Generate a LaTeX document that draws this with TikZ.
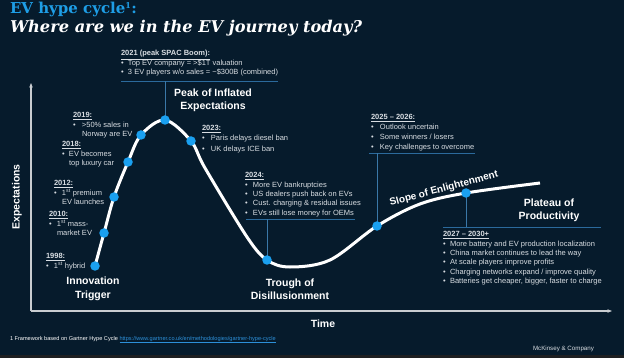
\documentclass[tikz,border=0pt]{standalone}
\usepackage{fontspec}
\setmainfont{Liberation Sans}
\newfontfamily\titlefont{DejaVu Serif}
\usetikzlibrary{arrows.meta}
\definecolor{bg}{HTML}{061B2C}
\definecolor{dotblue}{HTML}{1AA0F0}
\definecolor{titleblue}{HTML}{1E9EE6}
\definecolor{linkblue}{HTML}{2C8FD8}
\definecolor{sepblue}{HTML}{2B6A9C}
\definecolor{vblue}{HTML}{3A78A8}
\definecolor{txt}{HTML}{D9DEE3}
\definecolor{axisgray}{HTML}{C9CDD1}
\definecolor{stripgray}{HTML}{1E1F21}
\newcommand{\bl}[2][8]{\makebox[#1pt][l]{\textbullet}#2}
\newcommand{\cn}[2][8]{\hspace*{#1pt}#2}
\newcommand{\hd}[1]{\underline{\textbf{#1}}}
\begin{document}
\begin{tikzpicture}[x=1pt,y=-1pt,
  every node/.style={inner sep=0pt, outer sep=0pt},
  info/.style={anchor=north west, align=left, text=txt, font=\fontsize{7.5}{9.4}\selectfont},
  stage/.style={align=center, text=white, font=\bfseries\fontsize{10.5}{13.5}\selectfont},
  dot/.style={circle, fill=dotblue, minimum size=9.5pt},
  sep/.style={draw=sepblue, line width=0.9pt},
  vline/.style={draw=vblue, line width=0.8pt},
  curve/.style={draw=white, line width=3pt},
  axis/.style={draw=axisgray, line width=1.1pt, -{Stealth[length=4.5pt,width=3.5pt]}}
]
\fill[bg] (0,0) rectangle (624,355);
\fill[stripgray] (0,355) rectangle (624,358);
\useasboundingbox (0,0) rectangle (624,358);

% title
\node[anchor=base west, text=titleblue, font=\titlefont\bfseries\fontsize{15}{18}\selectfont] (title) at (10,14) {EV hype cycle\textsuperscript{\fontsize{8}{8}\selectfont 1}:};
\node[anchor=base west, text=white, font=\titlefont\bfseries\itshape\fontsize{16.2}{19}\selectfont] (subtitle) at (10,33) {Where are we in the EV journey today?};

% axes
\coordinate (O) at (31,311);
\coordinate (ytop) at (31,83);
\coordinate (xend) at (612,311);
\draw[axis] (O) -- (ytop);
\draw[axis] (O) -- (xend);
\node[stage, rotate=90] (ylab) at (17,197) {Expectations};
\node[stage] (xlab) at (323,324) {Time};

% curve
\draw[curve] plot[smooth, tension=0.55] coordinates {(95,266) (104,233) (114,197) (128,162) (141,135) (165,120) (191,141) (205,168) (247,237) (267,260) (290,267) (330,260) (377,226) (420,204) (466,193) (540,183)};

% dot positions
\coordinate (c1998) at (95,266);
\coordinate (c2010) at (104,233);
\coordinate (c2012) at (114,197);
\coordinate (c2018) at (128,162);
\coordinate (c2019) at (141,135);
\coordinate (cpeak) at (165,120);
\coordinate (c2023) at (191,141);
\coordinate (c2024) at (267,260);
\coordinate (c2025) at (377,226);
\coordinate (c2027) at (466,193);

% separators
\coordinate (s21a) at (121,81);  \coordinate (s21b) at (278,81);
\coordinate (s24a) at (246,219); \coordinate (s24b) at (355,219);
\coordinate (s25a) at (369,153); \coordinate (s25b) at (475,153);
\coordinate (s27a) at (443,227); \coordinate (s27b) at (601,227);
\draw[sep] (s21a) -- (s21b);
\draw[sep] (s24a) -- (s24b);
\draw[sep] (s25a) -- (s25b);
\draw[sep] (s27a) -- (s27b);
\draw[vline] (cpeak) -- (cpeak |- s21a);
\draw[vline] (c2024) -- (c2024 |- s24a);
\draw[vline] (c2025) -- (c2025 |- s25a);
\draw[vline] (c2027) -- (c2027 |- s27a);

% dots
\foreach \n in {1998,2010,2012,2018,2019,peak,2023,2024,2025,2027}
  \node[dot] (d\n) at (c\n) {};

% slope label
\node[text=white, font=\bfseries\fontsize{10}{12}\selectfont, rotate=15] (slope) at (444,189) {Slope of Enlightenment};

% stage labels
\node[stage] (innov) at (93,289) {Innovation\\Trigger};
\node[stage] (peaklab) at (213,100.5) {Peak of Inflated\\Expectations};
\node[stage] (trough) at (290,289) {Trough of\\Disillusionment};
\node[stage] (plateau) at (549,210.5) {Plateau of\\Productivity};

% info blocks
\node[info] (t2021) at (121,50.5) {\hd{2021 (peak SPAC Boom):}\\
  \bl[7]{Top EV company = >\$1T valuation}\\
  \bl[7]{3 EV players w/o sales = \textasciitilde\$300B (combined)}};
\node[info] (t2019) at (73,112.5) {\hd{2019:}\\
  \bl[9]{>50\% sales in}\\ \cn[9]{Norway are EV}};
\node[info] (t2018) at (62,141.5) {\hd{2018:}\\
  \bl[7]{EV becomes}\\ \cn[7]{top luxury car}};
\node[info] (t2012) at (54,180.5) {\hd{2012:}\\
  \bl{1\textsuperscript{st} premium}\\ \cn{EV launches}};
\node[info] (t2010) at (49,211.5) {\hd{2010:}\\
  \bl{1\textsuperscript{st} mass-}\\ \cn{market EV}};
\node[info] (t1998) at (46,253.5) {\hd{1998:}\\
  \bl{1\textsuperscript{st} hybrid}};
\node[info, font=\fontsize{7.5}{10.2}\selectfont] (t2023) at (202,125.5) {\hd{2023:}\\
  \bl[9]{Paris delays diesel ban}\\
  \bl[9]{UK delays ICE ban}};
\node[info] (t2024) at (245,172.5) {\hd{2024:}\\
  \bl{More EV bankruptcies}\\
  \bl{US dealers push back on EVs}\\
  \bl{Cust. charging \& residual issues}\\
  \bl{EVs still lose money for OEMs}};
\node[info, font=\fontsize{7.5}{10}\selectfont] (t2025) at (371,114.5) {\hd{2025 -- 2026:}\\
  \bl[9]{Outlook uncertain}\\
  \bl[9]{Some winners / losers}\\
  \bl[9]{Key challenges to overcome}};
\node[info] (t2027) at (443,231.5) {\hd{2027 -- 2030+}\\
  \bl[7]{More battery and EV production localization}\\
  \bl[7]{China market continues to lead the way}\\
  \bl[7]{At scale players improve profits}\\
  \bl[7]{Charging networks expand / improve quality}\\
  \bl[7]{Batteries get cheaper, bigger, faster to charge}};

% footer
\node[anchor=base west, text=white, font=\fontsize{5.6}{6.5}\selectfont] (fn) at (10,340) {1 Framework based on Gartner Hype Cycle \textcolor{linkblue}{\underline{https://www.gartner.co.uk/en/methodologies/gartner-hype-cycle}}};
\node[anchor=base east, text=txt, font=\fontsize{6.2}{7}\selectfont] (mck) at (594,350) {McKinsey \& Company};
\end{tikzpicture}
\end{document}
